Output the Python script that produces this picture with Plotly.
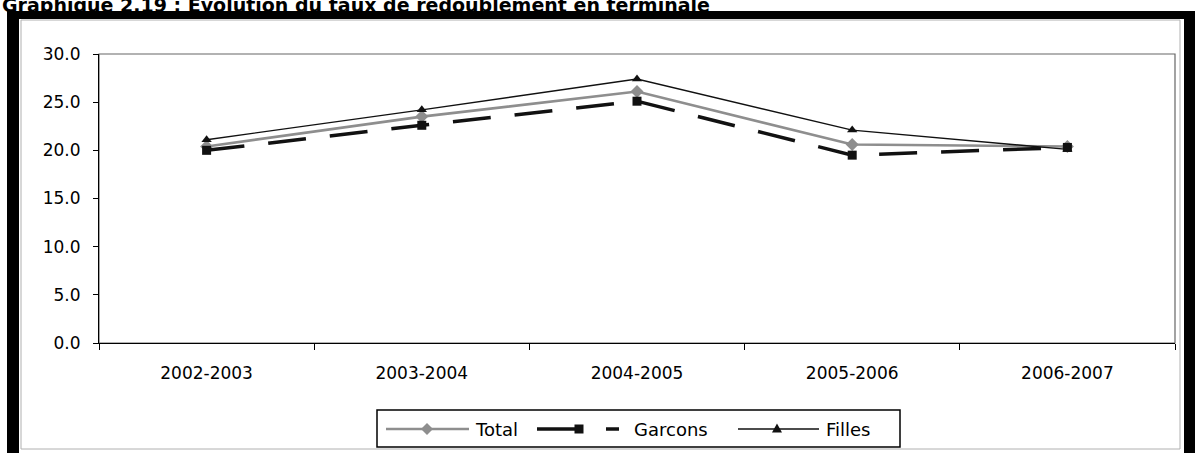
import plotly.graph_objects as go

# Taux de redoublement en terminale (%)
annees = ["2002-2003", "2003-2004", "2004-2005", "2005-2006", "2006-2007"]
series = ["Total", "Garcons", "Filles"]
total = [20.4, 23.5, 26.1, 20.6, 20.4]
garcons = [20.0, 22.6, 25.1, 19.5, 20.3]
filles = [21.1, 24.2, 27.4, 22.1, 20.1]
y_ticks = [0, 5, 10, 15, 20, 25, 30]

W, H = 1198, 453
L, R, T, B = 99, 23, 54, 110          # plot area margins in px
PW, PH = W - L - R, H - T - B


def px(x):
    return (x - L) / PW


def py(y):
    return (H - B - y) / PH


def poly(points):
    """SVG path in paper units from a list of pixel points."""
    return "M" + "L".join(f"{px(x):.5f},{py(y):.5f}" for x, y in points) + "Z"


font = "DejaVu Sans"
GREY = "#8e8e8e"
INK = "#111111"

styles = {
    "Total": dict(line=dict(color=GREY, width=2.6),
                  marker=dict(symbol="diamond", size=10, color=GREY)),
    "Garcons": dict(line=dict(color=INK, width=3.5, dash="38px,24px"),
                    marker=dict(symbol="square", size=9, color=INK)),
    "Filles": dict(line=dict(color=INK, width=1.4),
                   marker=dict(symbol="triangle-up", size=9, color=INK)),
}

fig = go.Figure()
for name, vals in zip(series, [total, garcons, filles]):
    fig.add_trace(go.Scatter(x=annees, y=vals, name=name, mode="lines+markers",
                             showlegend=False, **styles[name]))

shapes = [
    # chart area border
    dict(type="rect", xref="paper", yref="paper",
         x0=px(21), x1=px(1180), y0=py(449), y1=py(20),
         line=dict(color="#b0b0b0", width=1), layer="below"),
    # plot area border
    dict(type="rect", xref="paper", yref="paper", x0=0, x1=1, y0=0, y1=1,
         line=dict(color="#666666", width=1.2), layer="below"),
    # black frame around the graphic
    dict(type="rect", xref="paper", yref="paper",
         x0=px(7), x1=px(19), y0=py(460), y1=py(11),
         fillcolor="black", line=dict(width=0)),
    dict(type="rect", xref="paper", yref="paper",
         x0=px(7), x1=px(1195), y0=py(19), y1=py(11),
         fillcolor="black", line=dict(width=0)),
    dict(type="rect", xref="paper", yref="paper",
         x0=px(1184), x1=px(1195), y0=py(460), y1=py(11),
         fillcolor="black", line=dict(width=0)),
    # legend box
    dict(type="rect", xref="paper", yref="paper",
         x0=px(377), x1=px(900), y0=py(447), y1=py(410),
         fillcolor="white", line=dict(color="black", width=1.5), layer="below"),
]

annotations = [dict(
    text="<b>Graphique 2.19 : Evolution du taux de redoublement en terminale</b>",
    xref="paper", yref="paper", x=px(0), y=py(5), xanchor="left", yanchor="middle",
    showarrow=False, font=dict(family="DejaVu Sans", size=19, color="black"),
)]

# legend drawn by hand: line sample, marker glyph, label
LY = 429
leg_lines = {
    "Total": [(386, 469)],
    "Garcons": [(537, 580), (606, 619)],
    "Filles": [(738, 819)],
}
leg_marker_x = {"Total": 427, "Garcons": 579, "Filles": 777}
leg_text_x = {"Total": 473, "Garcons": 632, "Filles": 824}


def glyph(symbol, cx, cy):
    if symbol == "diamond":
        return poly([(cx, cy - 6), (cx + 6, cy), (cx, cy + 6), (cx - 6, cy)])
    if symbol == "square":
        return poly([(cx - 4.5, cy - 4.5), (cx + 4.5, cy - 4.5),
                     (cx + 4.5, cy + 4.5), (cx - 4.5, cy + 4.5)])
    return poly([(cx, cy - 5.5), (cx + 5, cy + 3.5), (cx - 5, cy + 3.5)])


for name in series:
    st = styles[name]
    for x0, x1 in leg_lines[name]:
        shapes.append(dict(type="line", xref="paper", yref="paper",
                           x0=px(x0), x1=px(x1), y0=py(LY), y1=py(LY),
                           line=dict(color=st["line"]["color"], width=st["line"]["width"])))
    shapes.append(dict(type="path", xref="paper", yref="paper",
                       path=glyph(st["marker"]["symbol"], leg_marker_x[name], LY),
                       fillcolor=st["marker"]["color"], line=dict(width=0)))
    annotations.append(dict(text=name, xref="paper", yref="paper",
                            x=px(leg_text_x[name]), y=py(LY), xanchor="left",
                            yanchor="middle", showarrow=False,
                            font=dict(family=font, size=18, color="black")))

fig.update_layout(
    width=W, height=H,
    margin=dict(l=L, r=R, t=T, b=B, autoexpand=False),
    paper_bgcolor="white", plot_bgcolor="white",
    font=dict(family=font, size=17, color="black"),
    showlegend=False,
    shapes=shapes,
    annotations=annotations,
    xaxis=dict(
        type="category", range=[-0.5, 4.5], showgrid=False, showline=True,
        linecolor="black", linewidth=1.2,
        ticks="outside", tickson="boundaries", ticklen=6, tickcolor="black",
        tickfont=dict(family=font, size=17), ticklabelstandoff=14,
    ),
    yaxis=dict(
        range=[0, 30], tickvals=y_ticks, tickformat=".1f",
        showgrid=False, showline=True, linecolor="black", linewidth=1.2,
        ticks="outside", ticklen=5, tickcolor="black", zeroline=False,
        tickfont=dict(family=font, size=17), ticklabelstandoff=9,
    ),
)

fig.write_html("out.html")
